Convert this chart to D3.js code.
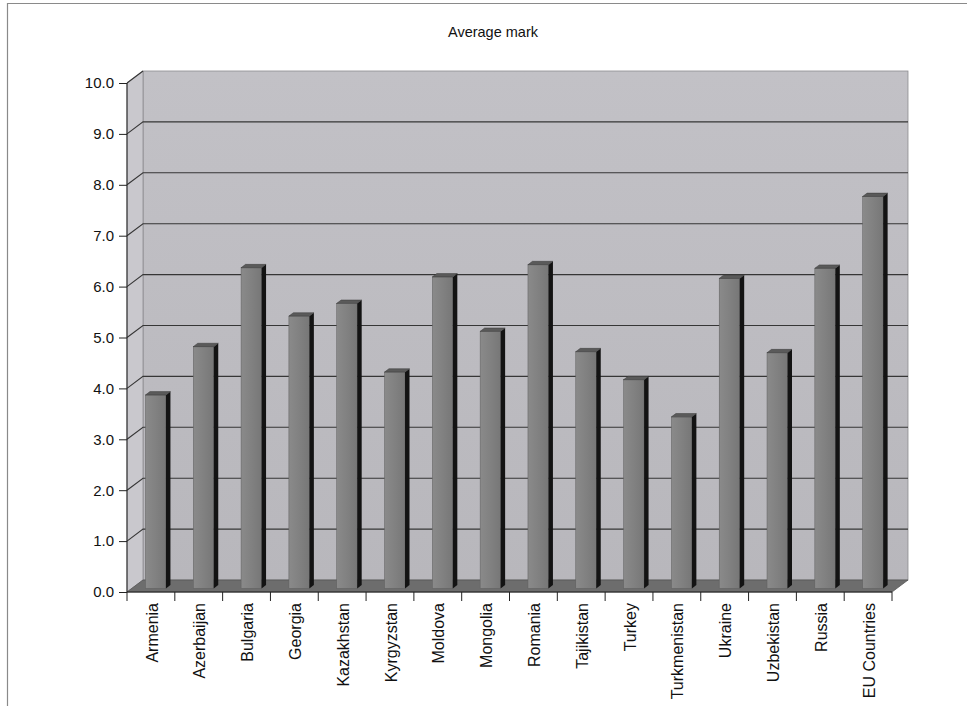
<!DOCTYPE html>
<html>
<head>
<meta charset="utf-8">
<script src="https://cdn.jsdelivr.net/npm/d3@7"></script>
<style>
  html, body { margin: 0; padding: 0; background: #fff; }
  svg { display: block; font-family: "Liberation Sans", Arial, sans-serif; }
</style>
</head>
<body>
<svg id="chart" width="967" height="706"></svg>
<script>
// Average mark per country
const countries = ["Armenia", "Azerbaijan", "Bulgaria", "Georgia", "Kazakhstan", "Kyrgyzstan",
  "Moldova", "Mongolia", "Romania", "Tajikistan", "Turkey", "Turkmenistan", "Ukraine",
  "Uzbekistan", "Russia", "EU Countries"];
const averageMark = [3.8, 4.75, 6.3, 5.35, 5.6, 4.25, 6.12, 5.05, 6.36, 4.65, 4.1, 3.37,
  6.09, 4.63, 6.29, 7.7];
const yTicks = [0, 1, 2, 3, 4, 5, 6, 7, 8, 9, 10];
const title = "Average mark";

const svg = d3.select("#chart");

// front plane of the 3D box
const x = d3.scaleBand().domain(countries).range([127, 892]);
const y = d3.scaleLinear().domain([0, 10]).range([592, 83]);
// depth vector of the box (front -> back wall)
const DX = 16, DY = -12;

const defs = svg.append("defs");
const wallGrad = defs.append("linearGradient").attr("id", "wall")
  .attr("x1", 0).attr("y1", 0).attr("x2", 0).attr("y2", 1);
wallGrad.append("stop").attr("offset", 0).attr("stop-color", "#c2c1c6");
wallGrad.append("stop").attr("offset", 1).attr("stop-color", "#b8b7bc");
const barGrad = defs.append("linearGradient").attr("id", "barFront")
  .attr("x1", 0).attr("y1", 0).attr("x2", 1).attr("y2", 0);
barGrad.append("stop").attr("offset", 0).attr("stop-color", "#8a8a8a");
barGrad.append("stop").attr("offset", 0.5).attr("stop-color", "#818181");
barGrad.append("stop").attr("offset", 1).attr("stop-color", "#777777");

// outer frame
svg.append("path").attr("d", "M7.5,706 V3.5 H967")
  .attr("fill", "none").attr("stroke", "#8a8a8a").attr("stroke-width", 1.2);

// title
svg.append("text").attr("x", 493).attr("y", 37).attr("text-anchor", "middle")
  .attr("font-size", 14.5).attr("fill", "#111").text(title);

const x0 = x.range()[0], x1 = x.range()[1];
const yTop = y(10), yBot = y(0);

// back wall
svg.append("rect")
  .attr("x", x0 + DX).attr("y", yTop + DY)
  .attr("width", x1 - x0).attr("height", yBot - yTop)
  .attr("fill", "url(#wall)").attr("stroke", "#8d8c90").attr("stroke-width", 0.8);

// side wall
svg.append("polygon")
  .attr("points", [[x0, yTop], [x0 + DX, yTop + DY], [x0 + DX, yBot + DY], [x0, yBot]].join(" "))
  .attr("fill", "#c9c8cd").attr("stroke", "#8d8c90").attr("stroke-width", 0.8);

// floor
svg.append("polygon")
  .attr("points", [[x0, yBot], [x0 + DX, yBot + DY], [x1 + DX, yBot + DY], [x1, yBot]].join(" "))
  .attr("fill", "#6d6d6d").attr("stroke", "#555").attr("stroke-width", 0.8);

// gridlines on back and side walls
const grid = svg.append("g").attr("stroke", "#363636").attr("stroke-width", 1.1).attr("fill", "none");
yTicks.filter(t => t > 0 && t < 10).forEach(t => {
  grid.append("path")
    .attr("d", `M${x0},${y(t)} L${x0 + DX},${y(t) + DY} H${x1 + DX}`);
});
grid.append("path").attr("d", `M${x0},${yTop} L${x0 + DX},${yTop + DY}`);

// bars
const F1 = 0.3, F2 = 0.58;      // depth of bar front / back faces
const barW = 20.5;
const bx = d => x(d.c) + (x.bandwidth() - barW) / 2 + F1 * DX;
const sdx = (F2 - F1) * DX, sdy = (F2 - F1) * DY;
const data = countries.map((c, i) => ({ c, v: averageMark[i] }));
const bars = svg.append("g").selectAll("g").data(data).join("g");

bars.append("rect")
  .attr("x", bx)
  .attr("y", d => y(d.v) + F1 * DY)
  .attr("width", barW)
  .attr("height", d => y(0) - y(d.v))
  .attr("fill", "url(#barFront)")
  .attr("stroke", "#5e5e5e").attr("stroke-width", 0.5);

bars.append("polygon")
  .attr("points", d => {
    const l = bx(d) + barW, t = y(d.v) + F1 * DY, b = y(0) + F1 * DY;
    return [[l, t], [l + sdx, t + sdy], [l + sdx, b + sdy], [l, b]].join(" ");
  })
  .attr("fill", "#131313");

bars.append("polygon")
  .attr("points", d => {
    const l = bx(d), t = y(d.v) + F1 * DY;
    return [[l, t], [l + sdx, t + sdy], [l + barW + sdx, t + sdy], [l + barW, t]].join(" ");
  })
  .attr("fill", "#5a5a5a").attr("stroke", "#3a3a3a").attr("stroke-width", 0.5);

// y axis
const yAxis = svg.append("g").attr("transform", `translate(${x0},0)`)
  .call(d3.axisLeft(y).tickValues(yTicks).tickFormat(d3.format(".1f")).tickSize(8).tickPadding(5));
yAxis.select(".domain").attr("stroke", "#222").attr("d", `M0,${yTop}V${yBot}`);
yAxis.selectAll(".tick line").attr("stroke", "#222");
yAxis.selectAll("text").attr("font-size", 15).attr("fill", "#111")
  .attr("font-family", "'Liberation Sans', Arial, sans-serif");

// x axis
const xAxis = svg.append("g").attr("transform", `translate(0,${yBot})`)
  .call(d3.axisBottom(x).tickSize(0).tickPadding(0));
xAxis.select(".domain").attr("stroke", "#222").attr("d", `M${x0},0H${x1}`);
xAxis.selectAll(".tick line").remove();
xAxis.selectAll(".tick text")
  .attr("transform", "rotate(-90)")
  .attr("x", -11).attr("y", 1)
  .attr("dy", "0.35em")
  .attr("text-anchor", "end")
  .attr("font-size", 16).attr("fill", "#111")
  .attr("font-family", "'Liberation Sans', Arial, sans-serif");
// category separators
const bounds = countries.map(c => x(c)).concat([x1]);
xAxis.append("g").selectAll("line").data(bounds).join("line")
  .attr("x1", d => d).attr("x2", d => d).attr("y1", 0).attr("y2", 9)
  .attr("stroke", "#222");
</script>
</body>
</html>
